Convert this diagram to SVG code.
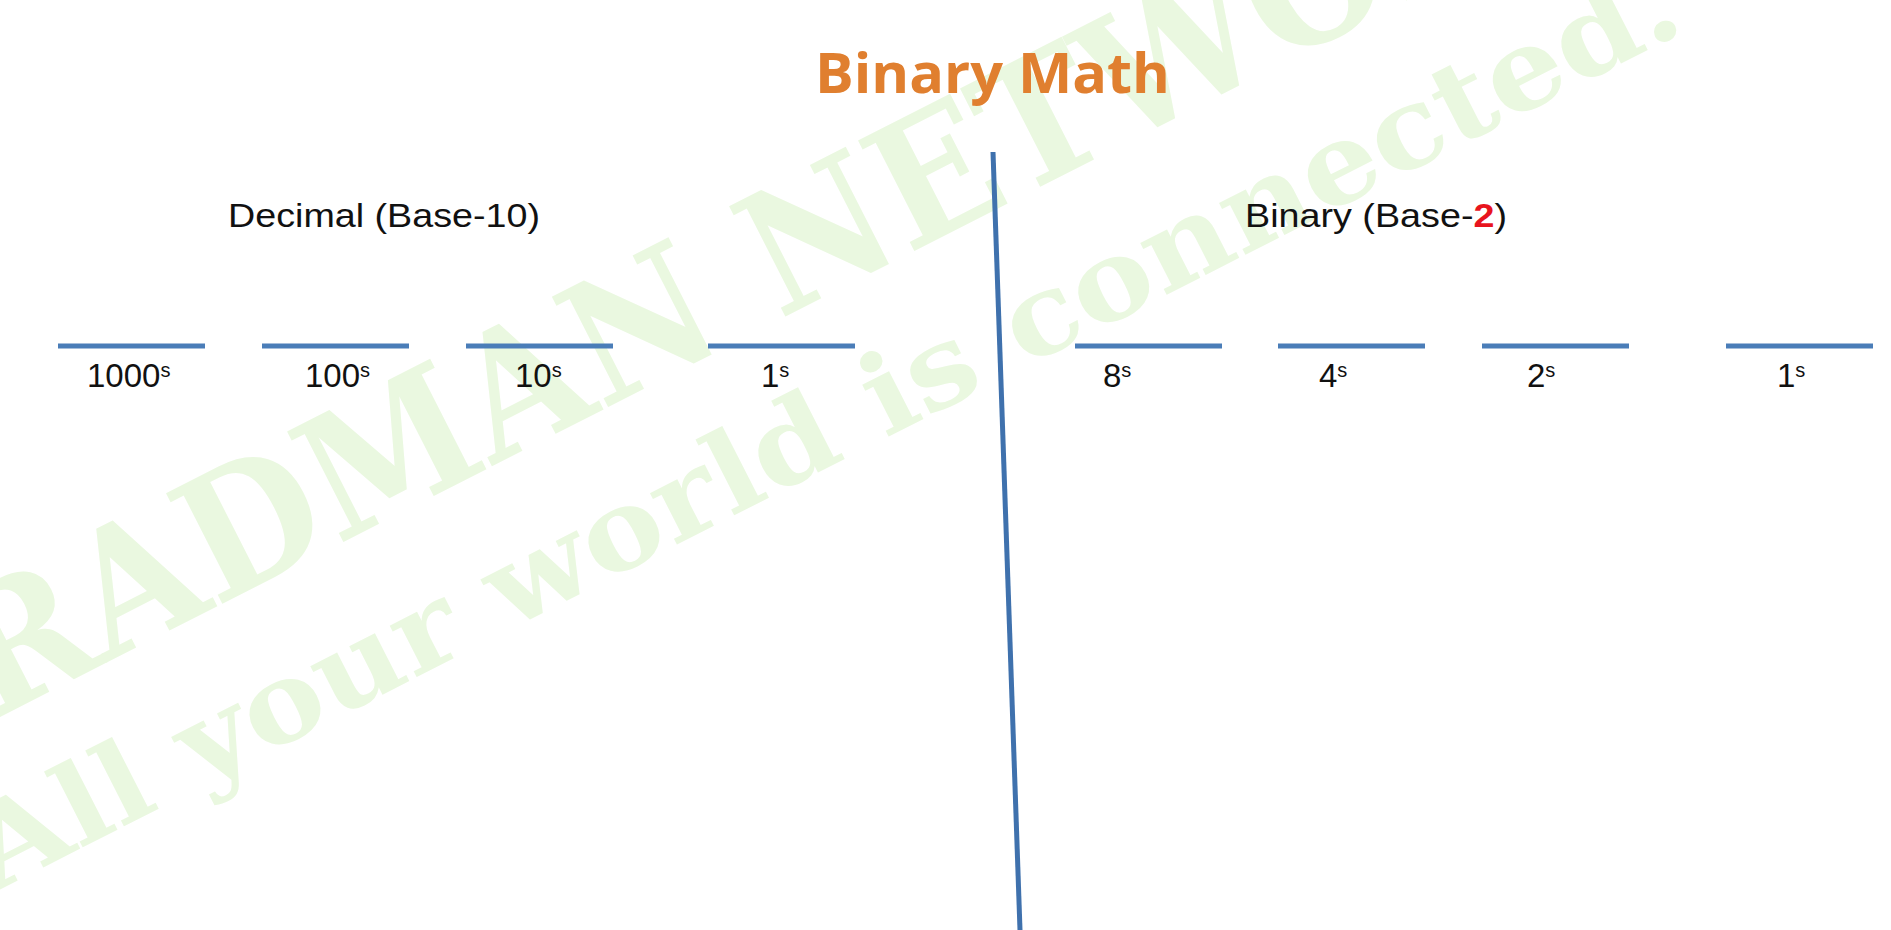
<svg xmlns="http://www.w3.org/2000/svg" width="1891" height="930" viewBox="0 0 1891 930">
  <style>
    .wm { font-family: "DejaVu Serif", "Liberation Serif", serif; font-weight: bold; fill: #EAF8E0; }
    .title { font-family: "Open Sans", "Liberation Sans", sans-serif; font-weight: bold; font-size: 56px; fill: #E07F2F; }
    .head { font-family: "Liberation Sans", Arial, sans-serif; font-size: 33px; fill: #111111; }
    .lab { font-family: "Liberation Sans", Arial, sans-serif; font-size: 33px; fill: #111111; }
    .sup { font-size: 20px; }
    .slot { stroke: #4A7DB8; stroke-width: 5; fill: none; }
    .divider { stroke: #3F71AD; stroke-width: 5; fill: none; }
  </style>
  <rect x="0" y="0" width="1891" height="930" fill="#FFFFFF"/>

  <g id="watermark">
    <text class="wm" x="-10" y="722" font-size="170" textLength="1850" lengthAdjust="spacingAndGlyphs" transform="rotate(-27 -10 722)">RADMAN NETWORK</text>
    <text class="wm" x="-5" y="892" font-size="112" textLength="1900" lengthAdjust="spacingAndGlyphs" transform="rotate(-27 -5 892)">All your world is connected.</text>
  </g>

  <g id="title">
    <text class="title" x="815" y="93" textLength="355" lengthAdjust="spacingAndGlyphs">Binary Math</text>
  </g>

  <g id="decimal-header">
    <text class="head" x="228" y="227" textLength="312" lengthAdjust="spacingAndGlyphs">Decimal (Base-10)</text>
  </g>
  <g id="binary-header">
    <text class="head" x="1245" y="227" textLength="262" lengthAdjust="spacingAndGlyphs">Binary (Base-<tspan fill="#E8141E" font-weight="bold">2</tspan>)</text>
  </g>

  <g id="connectors">
    <line class="divider" x1="993" y1="152" x2="1020" y2="930"/>
  </g>

  <g id="dec-1000">
    <line class="slot" x1="58" y1="346" x2="205" y2="346"/>
    <text class="lab" x="87" y="387">1000<tspan class="sup" dy="-10">s</tspan></text>
  </g>
  <g id="dec-100">
    <line class="slot" x1="262" y1="346" x2="409" y2="346"/>
    <text class="lab" x="305" y="387">100<tspan class="sup" dy="-10">s</tspan></text>
  </g>
  <g id="dec-10">
    <line class="slot" x1="466" y1="346" x2="613" y2="346"/>
    <text class="lab" x="515" y="387">10<tspan class="sup" dy="-10">s</tspan></text>
  </g>
  <g id="dec-1">
    <line class="slot" x1="708" y1="346" x2="855" y2="346"/>
    <text class="lab" x="761" y="387">1<tspan class="sup" dy="-10">s</tspan></text>
  </g>

  <g id="bin-8">
    <line class="slot" x1="1075" y1="346" x2="1222" y2="346"/>
    <text class="lab" x="1103" y="387">8<tspan class="sup" dy="-10">s</tspan></text>
  </g>
  <g id="bin-4">
    <line class="slot" x1="1278" y1="346" x2="1425" y2="346"/>
    <text class="lab" x="1319" y="387">4<tspan class="sup" dy="-10">s</tspan></text>
  </g>
  <g id="bin-2">
    <line class="slot" x1="1482" y1="346" x2="1629" y2="346"/>
    <text class="lab" x="1527" y="387">2<tspan class="sup" dy="-10">s</tspan></text>
  </g>
  <g id="bin-1">
    <line class="slot" x1="1726" y1="346" x2="1873" y2="346"/>
    <text class="lab" x="1777" y="387">1<tspan class="sup" dy="-10">s</tspan></text>
  </g>
</svg>
